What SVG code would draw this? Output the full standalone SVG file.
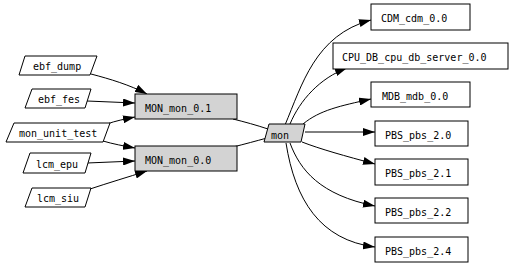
<svg xmlns="http://www.w3.org/2000/svg" width="517" height="266" viewBox="0 0 517 266">
<defs>
<style>
text{font-family:"DejaVu Sans Mono","Liberation Mono",monospace;font-size:10px;fill:#000}
.n{fill:#fff;stroke:#000;stroke-width:1}
.g{fill:#d3d3d3;stroke:#000;stroke-width:1}
.e{fill:none;stroke:#000;stroke-width:1}
</style>
<marker id="ah" markerUnits="userSpaceOnUse" markerWidth="12" markerHeight="8" refX="12" refY="4" orient="auto">
<path d="M0,0 L12,4 L0,8 z" fill="#000"/>
</marker>
</defs>
<rect width="517" height="266" fill="#fff"/>
<g id="edges">
<path class="e" marker-end="url(#ah)" d="M91,74 C110,79 130,85 147,94"/>
<path class="e" marker-end="url(#ah)" d="M87,101 L135,103"/>
<path class="e" marker-end="url(#ah)" d="M107,124 C115,121 125,119 135,117"/>
<path class="e" marker-end="url(#ah)" d="M103,141 C113,144 124,146 135,148"/>
<path class="e" marker-end="url(#ah)" d="M87,163 L135,161"/>
<path class="e" marker-end="url(#ah)" d="M90,189 C108,183 128,177 147,171"/>
<path class="e" d="M233,119 C245,122 256,125 268,129"/>
<path class="e" d="M233,147 C245,144 256,141 267,138"/>
<path class="e" marker-end="url(#ah)" d="M285,125 C302,85 315,35 371,20"/>
<path class="e" marker-end="url(#ah)" d="M290,124 C300,100 320,78 347,68"/>
<path class="e" marker-end="url(#ah)" d="M303,124 C320,110 340,106 371,99"/>
<path class="e" marker-end="url(#ah)" d="M305,132 L375,132"/>
<path class="e" marker-end="url(#ah)" d="M302,142 C320,149 345,156 375,164"/>
<path class="e" marker-end="url(#ah)" d="M290,143 C300,170 320,195 375,206"/>
<path class="e" marker-end="url(#ah)" d="M286,143 C295,200 320,240 375,247"/>
</g>
<g id="ebf_dump"><polygon class="n" points="25,56 97,56 90,75 19,75"/><text x="33" y="70">ebf_dump</text></g>
<g id="ebf_fes"><polygon class="n" points="32,89 91,89 85,108 25,108"/><text x="38" y="103">ebf_fes</text></g>
<g id="mon_unit_test"><polygon class="n" points="14,123 110,123 103,142 6,142"/><text x="19" y="137">mon_unit_test</text></g>
<g id="lcm_epu"><polygon class="n" points="30,153 91,153 85,173 23,173"/><text x="36" y="168">lcm_epu</text></g>
<g id="lcm_siu"><polygon class="n" points="32,188 91,188 85,207 25,207"/><text x="37" y="202">lcm_siu</text></g>
<g id="MON_mon_0.1"><rect class="g" x="135" y="94" width="102" height="25"/><text x="145" y="112">MON_mon_0.1</text></g>
<g id="MON_mon_0.0"><rect class="g" x="135" y="146" width="102" height="25"/><text x="145" y="164">MON_mon_0.0</text></g>
<g id="mon"><polygon class="g" points="269,124 305,124 301,142 264,142"/><text x="271" y="139">mon</text></g>
<g id="CDM_cdm_0.0"><rect class="n" x="371" y="4" width="99" height="26"/><text x="381" y="22">CDM_cdm_0.0</text></g>
<g id="CPU_DB_cpu_db_server_0.0"><rect class="n" x="333" y="43" width="175" height="26"/><text x="342" y="61">CPU_DB_cpu_db_server_0.0</text></g>
<g id="MDB_mdb_0.0"><rect class="n" x="371" y="82" width="99" height="25"/><text x="382" y="100">MDB_mdb_0.0</text></g>
<g id="PBS_pbs_2.0"><rect class="n" x="375" y="121" width="93" height="25"/><text x="385" y="139">PBS_pbs_2.0</text></g>
<g id="PBS_pbs_2.1"><rect class="n" x="375" y="159" width="93" height="26"/><text x="385" y="177">PBS_pbs_2.1</text></g>
<g id="PBS_pbs_2.2"><rect class="n" x="375" y="198" width="93" height="25"/><text x="385" y="216">PBS_pbs_2.2</text></g>
<g id="PBS_pbs_2.4"><rect class="n" x="375" y="237" width="93" height="25"/><text x="385" y="255">PBS_pbs_2.4</text></g>
</svg>
